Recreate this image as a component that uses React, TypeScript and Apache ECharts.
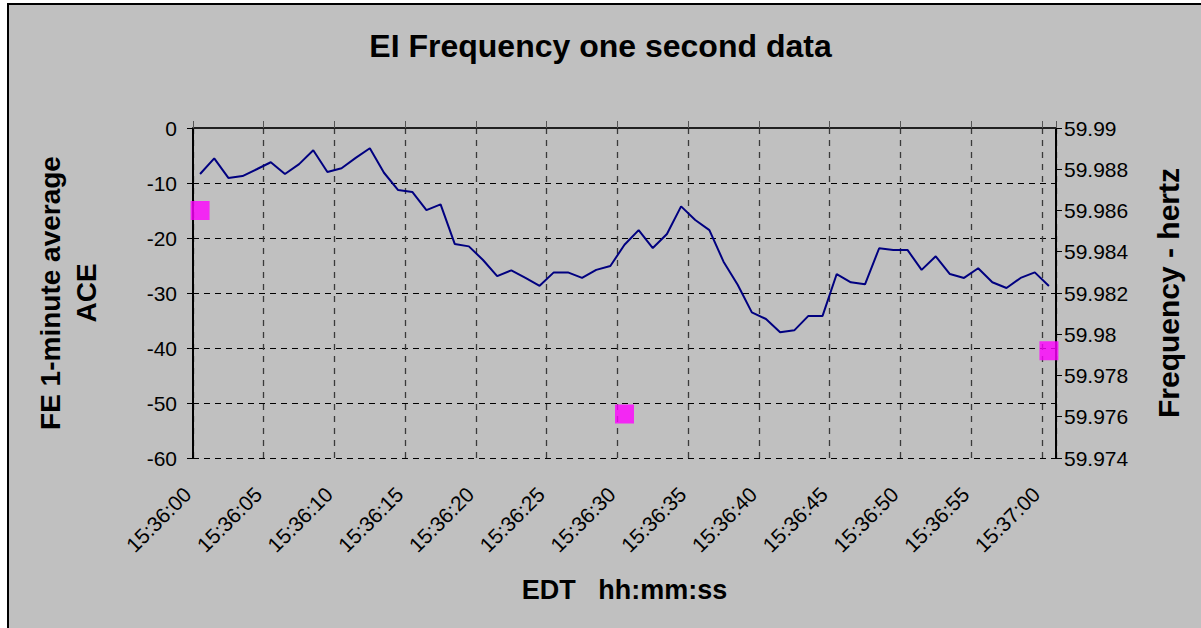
import React, { useEffect, useRef } from "react";
import * as echarts from "echarts";

const times = [
  "15:36:00","15:36:01","15:36:02","15:36:03","15:36:04","15:36:05","15:36:06","15:36:07","15:36:08","15:36:09",
  "15:36:10","15:36:11","15:36:12","15:36:13","15:36:14","15:36:15","15:36:16","15:36:17","15:36:18","15:36:19",
  "15:36:20","15:36:21","15:36:22","15:36:23","15:36:24","15:36:25","15:36:26","15:36:27","15:36:28","15:36:29",
  "15:36:30","15:36:31","15:36:32","15:36:33","15:36:34","15:36:35","15:36:36","15:36:37","15:36:38","15:36:39",
  "15:36:40","15:36:41","15:36:42","15:36:43","15:36:44","15:36:45","15:36:46","15:36:47","15:36:48","15:36:49",
  "15:36:50","15:36:51","15:36:52","15:36:53","15:36:54","15:36:55","15:36:56","15:36:57","15:36:58","15:36:59",
  "15:37:00",
];

const frequency = [
  59.98777, 59.98853, 59.98758, 59.98767, 59.988, 59.98834, 59.98777, 59.98825, 59.98892, 59.98787,
  59.98805, 59.98855, 59.98902, 59.98783, 59.98699, 59.9869, 59.98602, 59.9863, 59.98438, 59.98426,
  59.9836, 59.98282, 59.9831, 59.98273, 59.98235, 59.983, 59.983, 59.98273, 59.98312, 59.98331,
  59.98434, 59.98505, 59.98418, 59.98486, 59.9862, 59.98554, 59.98505, 59.98352, 59.9824, 59.98106,
  59.98074, 59.9801, 59.98019, 59.98089, 59.98089, 59.98292, 59.98252, 59.98242, 59.98417, 59.98409,
  59.98409, 59.98312, 59.98378, 59.98292, 59.98273, 59.9832, 59.98252, 59.98224, 59.98273, 59.983,
  59.98234,
];

const aceTimes = ["15:36:00", "15:36:30", "15:37:00"];
const aceValues = [-15, -52, -40.5];

const FONT = "'Liberation Sans', Arial, sans-serif";

export default function App() {
  const ref = useRef<HTMLDivElement>(null);

  useEffect(() => {
    if (!ref.current) return;
    const chart = echarts.init(ref.current, undefined, { renderer: "svg" });
    chart.setOption({
      animation: false,
      backgroundColor: "transparent",
      textStyle: { fontFamily: FONT },
      title: {
        text: "EI Frequency one second data",
        left: "center",
        top: 25,
        textStyle: { fontFamily: FONT, fontSize: 32, fontWeight: "bold", color: "#000" },
      },
      grid: { left: 193, right: 145, top: 128, bottom: 170, containLabel: false },
      xAxis: [
        {
          type: "category",
          data: times,
          boundaryGap: true,
          position: "bottom",
          name: "EDT   hh:mm:ss",
          nameLocation: "middle",
          nameGap: 118,
          nameTextStyle: { fontFamily: FONT, fontSize: 27, fontWeight: "bold", color: "#000" },
          axisLine: { show: true, lineStyle: { color: "#808080", width: 2 } },
          axisTick: { show: true, inside: true, length: 7, interval: 4, lineStyle: { color: "#555" } },
          axisLabel: {
            interval: 4,
            rotate: 45,
            margin: 20,
            padding: [0, 18, 0, 0],
            fontFamily: FONT,
            fontSize: 21,
            color: "#000",
          },
          splitLine: { show: true, interval: 4, lineStyle: { color: "#3a3a3a", type: [6, 6], width: 1.3 } },
        },
        {
          type: "category",
          data: times,
          boundaryGap: true,
          position: "top",
          axisLine: { show: true, lineStyle: { color: "#000", width: 1.5 } },
          axisTick: { show: false },
          axisLabel: { show: false },
          splitLine: { show: false },
        },
      ],
      yAxis: [
        {
          type: "value",
          min: -60,
          max: 0,
          interval: 10,
          position: "left",
          name: "FE 1-minute average\nACE",
          nameLocation: "middle",
          nameRotate: 90,
          nameGap: 89,
          nameTextStyle: { fontFamily: FONT, fontSize: 28, fontWeight: "bold", color: "#000", lineHeight: 36 },
          axisLine: { show: true, lineStyle: { color: "#000", width: 2 } },
          axisTick: { show: true, length: 6, lineStyle: { color: "#000" } },
          axisLabel: { margin: 16, fontFamily: FONT, fontSize: 21, color: "#000" },
          splitLine: { show: true, lineStyle: { color: "#000", type: [6, 5], width: 1 } },
        },
        {
          type: "value",
          min: 59.974,
          max: 59.99,
          interval: 0.002,
          position: "right",
          name: "Frequency - hertz",
          nameLocation: "middle",
          nameRotate: 90,
          nameGap: 97,
          nameTextStyle: { fontFamily: FONT, fontSize: 30, fontWeight: "bold", color: "#000" },
          axisLine: { show: true, lineStyle: { color: "#000", width: 2 } },
          axisTick: { show: true, length: 6, lineStyle: { color: "#000" } },
          axisLabel: {
            margin: 8,
            fontFamily: FONT,
            fontSize: 21,
            color: "#000",
            formatter: (v: number) => String(parseFloat(v.toFixed(3))),
          },
          splitLine: { show: false },
        },
      ],
      series: [
        {
          name: "Frequency",
          type: "line",
          xAxisIndex: 0,
          yAxisIndex: 1,
          data: frequency,
          symbol: "none",
          lineStyle: { color: "#000080", width: 2 },
          z: 3,
        },
        {
          name: "ACE",
          type: "scatter",
          xAxisIndex: 0,
          yAxisIndex: 0,
          data: aceTimes.map((t, i) => [t, aceValues[i]]),
          symbol: "rect",
          symbolSize: 19,
          itemStyle: { color: "#ff00ff" },
          z: 4,
        },
      ],
    });
    return () => chart.dispose();
  }, []);

  return (
    <div style={{ position: "fixed", left: 0, top: 0, width: 1201, height: 628, background: "#fff", overflow: "hidden" }}>
      <div
        style={{
          position: "absolute",
          left: 7,
          top: 3,
          width: 1200,
          height: 630,
          background: "#c0c0c0",
          borderLeft: "2px solid #000",
          borderTop: "2px solid #000",
        }}
      />
      <div ref={ref} style={{ position: "absolute", left: 0, top: 0, width: 1201, height: 628 }} />
    </div>
  );
}
